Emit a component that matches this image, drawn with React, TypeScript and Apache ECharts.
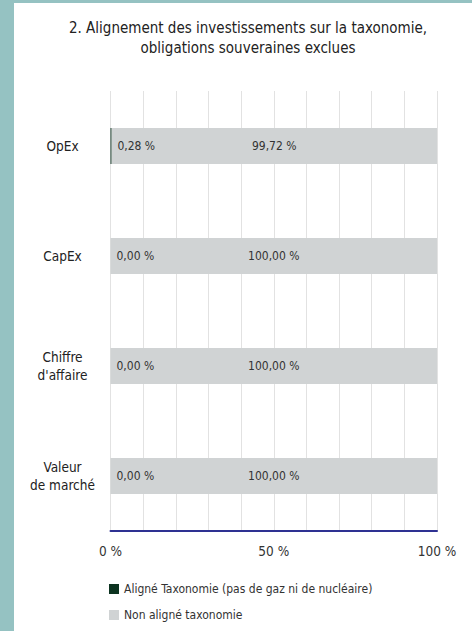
import React, { useEffect, useRef } from "react";
import * as echarts from "echarts";

const categories = ["OpEx", "CapEx", "Chiffre\nd'affaire", "Valeur\nde marché"];
const alignedValues = [0.28, 0.0, 0.0, 0.0];
const nonAlignedValues = [99.72, 100.0, 100.0, 100.0];
const seriesNames = ["Aligné Taxonomie (pas de gaz ni de nucléaire)", "Non aligné taxonomie"];
const tickLabels = [0, 50, 100];
const titleText = "2. Alignement des investissements sur la taxonomie,\nobligations souveraines exclues";

const FONT = "'Liberation Sans Narrow', 'DejaVu Sans Condensed', Roboto, sans-serif";

function fmt(v: number): string {
  return v.toFixed(2).replace(".", ",") + " %";
}

export default function App() {
  const ref = useRef<HTMLDivElement>(null);
  useEffect(() => {
    document.body.style.margin = "0";
    if (!ref.current) return;
    const chart = echarts.init(ref.current, null, { renderer: "svg" });
    chart.setOption({
      animation: false,
      backgroundColor: "#ffffff",
      textStyle: { fontFamily: FONT },
      graphic: [
        { type: "rect", shape: { x: 0, y: 0, width: 14, height: 631 }, style: { fill: "#95c2c2" }, silent: true },
        { type: "rect", shape: { x: 0, y: 0, width: 472, height: 3 }, style: { fill: "#95c2c2" }, silent: true },
      ],
      title: {
        text: titleText,
        left: 243,
        top: 13,
        textAlign: "center",
        textStyle: { fontFamily: FONT, fontSize: 15, fontWeight: "normal", color: "#222", lineHeight: 20 },
      },
      legend: {
        orient: "vertical",
        left: 104,
        top: 578,
        itemWidth: 10,
        itemHeight: 10,
        itemGap: 14,
        icon: "rect",
        data: seriesNames,
        textStyle: { fontFamily: FONT, fontSize: 12, color: "#333" },
      },
      grid: { left: 110.5, right: 35, top: 91, bottom: 100, containLabel: false },
      xAxis: {
        type: "value",
        min: 0,
        max: 100,
        interval: 10,
        axisLine: { show: true, onZero: false, lineStyle: { color: "#2e3192", width: 2 } },
        axisTick: { show: false },
        splitLine: { show: true, lineStyle: { color: "#e2e2e2", width: 1 } },
        axisLabel: {
          margin: 13,
          fontFamily: FONT,
          fontSize: 13.5,
          color: "#333",
          formatter: (v: number) => (tickLabels.includes(v) ? v + " %" : ""),
        },
      },
      yAxis: {
        type: "category",
        inverse: true,
        data: categories,
        axisLine: { show: false },
        axisTick: { show: false },
        splitLine: { show: false },
        position: "left",
        axisLabel: { show: true, fontFamily: FONT, fontSize: 13.5, color: "#222", align: "center", margin: 48, lineHeight: 18 },
      },
      series: [
        {
          name: seriesNames[0],
          type: "bar",
          stack: "total",
          data: alignedValues,
          barWidth: 36,
          itemStyle: { color: "#0c3320" },
          label: {
            show: true,
            position: "right",
            distance: 6,
            formatter: (p: any) => fmt(p.value),
            fontFamily: FONT,
            fontSize: 12,
            color: "#333",
          },
          z: 3,
        },
        {
          name: seriesNames[1],
          type: "bar",
          stack: "total",
          data: nonAlignedValues,
          barWidth: 36,
          itemStyle: { color: "#d0d3d4" },
          label: {
            show: true,
            position: "inside",
            formatter: (p: any) => fmt(p.value),
            fontFamily: FONT,
            fontSize: 12,
            color: "#333",
          },
          z: 2,
        },
      ],
    });
    return () => chart.dispose();
  }, []);
  return <div ref={ref} style={{ width: 472, height: 631 }} />;
}
